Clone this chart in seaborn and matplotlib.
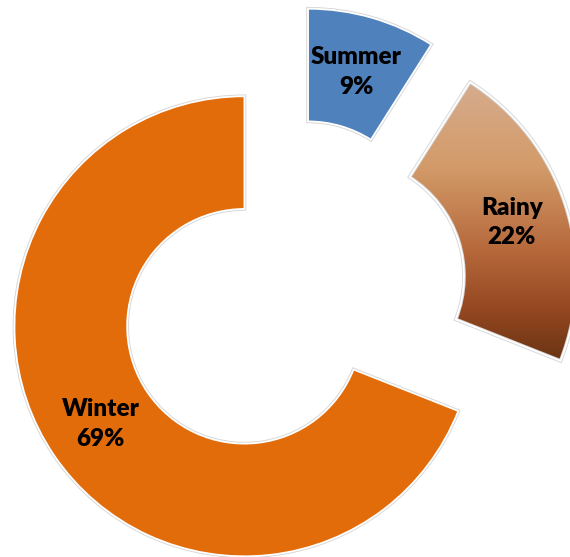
import numpy as np
import matplotlib
matplotlib.use("Agg")
import matplotlib.pyplot as plt
import matplotlib.patheffects as pe
from matplotlib.colors import LinearSegmentedColormap
import seaborn as sns

# Season shares (percent)
seasons = ["Summer", "Rainy", "Winter"]
shares = [9, 22, 69]
colors = ["#4F81BD", "#C8864F", "#E36C0A"]

sns.set_theme(style="white")
plt.rcParams["font.family"] = ["Lato", "DejaVu Sans"]

fig = plt.figure(figsize=(5.70, 5.57), dpi=100)
ax = fig.add_axes([0, 0, 1, 1])

wedges, texts, autotexts = ax.pie(
    shares,
    colors=colors,
    startangle=90,
    counterclock=False,
    explode=[0.25] * len(shares),
    radius=1.0,
    wedgeprops=dict(width=0.49, edgecolor="white", linewidth=1.3),
    autopct="%1.0f%%",
    pctdistance=0.755,
    textprops=dict(fontsize=17.5, fontweight="heavy", color="black"),
)

for name, t in zip(seasons, autotexts):
    t.set_text(f"{name}\n{t.get_text()}")
    t.set_linespacing(1.42)

# soft grey rim around each slice
for w in wedges:
    w.set_path_effects([pe.Stroke(linewidth=2.6, foreground="#d6d6d6"), pe.Normal()])

# vertical gradient fill for the Rainy slice
rainy = wedges[1]
rainy.set_facecolor("none")
grad = LinearSegmentedColormap.from_list(
    "rainy",
    [(0.0, "#D6AC8E"), (0.3, "#D39B69"), (0.6, "#B5673A"), (0.8, "#944720"), (1.0, "#643112")],
)
img = ax.imshow(
    np.linspace(0, 1, 256).reshape(-1, 1),
    cmap=grad,
    aspect="auto",
    extent=[0.2, 1.3, -0.32, 0.93],
    origin="upper",
    zorder=rainy.get_zorder() - 0.1,
)
img.set_clip_path(rainy)

ax.set_xlim(-1.2696, 1.2087)
ax.set_ylim(-1.1435, 1.278)
ax.set_axis_off()

fig.savefig("out.png", dpi=100)
